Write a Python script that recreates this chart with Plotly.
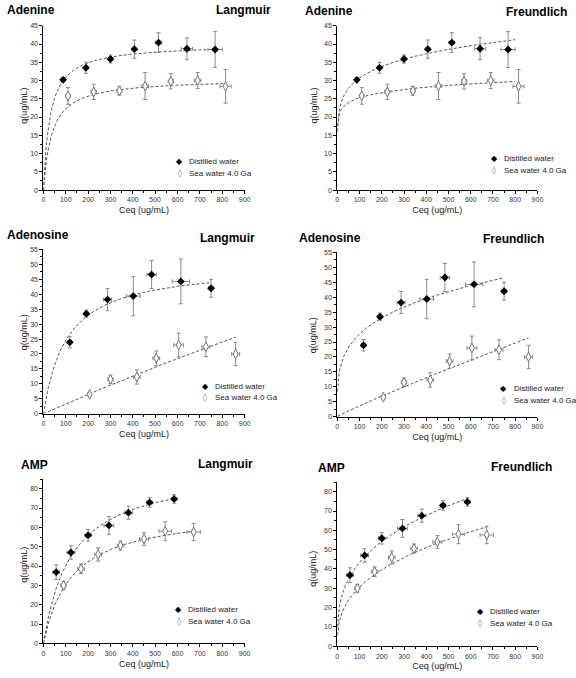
import numpy as np
import plotly.graph_objects as go

W, H = 576, 678
FONT = "Liberation Sans, Arial, sans-serif"

# ---------------- data ----------------
# Adenine
ade_dw_x = [88, 190, 300, 407, 515, 642, 768]
ade_dw_y = [30.2, 33.5, 35.9, 38.6, 40.4, 38.7, 38.5]
ade_dw_ey = [0.6, 1.5, 1.1, 2.5, 2.7, 3.0, 4.9]
ade_dw_ex = [5, 8, 8, 10, 12, 25, 32]
ade_sw_x = [110, 225, 340, 455, 570, 690, 815]
ade_sw_y = [25.8, 26.9, 27.2, 28.5, 29.8, 30.0, 28.4]
ade_sw_ey = [2.3, 2.1, 1.2, 3.7, 2.1, 2.2, 4.6]
ade_sw_ex = [10, 12, 10, 15, 12, 15, 25]

# Adenosine
ado_dw_x = [118, 192, 287, 402, 484, 615, 750]
ado_dw_y = [23.9, 33.5, 38.2, 39.4, 46.6, 44.3, 42.0]
ado_dw_ey = [1.9, 1.2, 3.7, 6.6, 4.7, 7.5, 3.0]
ado_dw_ex = [8, 10, 18, 31, 21, 39, 12]
ado_sw_x = [207, 300, 418, 505, 605, 727, 860]
ado_sw_y = [6.5, 11.5, 12.3, 18.6, 23.0, 22.4, 20.0]
ado_sw_ey = [0.5, 1.4, 2.4, 2.4, 4.0, 3.3, 3.9]
ado_sw_ex = [8, 12, 15, 15, 22, 18, 18]

# AMP
amp_dw_x = [57, 123, 200, 293, 380, 475, 585]
amp_dw_y = [36.8, 47.0, 55.9, 61.0, 67.6, 72.9, 74.7]
amp_dw_ey = [3.8, 3.5, 3.0, 4.6, 3.4, 2.5, 2.2]
amp_dw_ex = [15, 18, 15, 22, 18, 12, 12]
amp_sw_x = [90, 168, 245, 345, 450, 545, 672]
amp_sw_y = [30.0, 38.6, 46.0, 50.6, 54.0, 58.0, 57.6]
amp_sw_ey = [2.0, 2.5, 3.4, 2.3, 3.3, 4.9, 4.5]
amp_sw_ex = [12, 15, 15, 15, 20, 28, 30]

# Fitted model parameters (qm, K) for Langmuir, (Kf, 1/n) for Freundlich
lang_ade_dw = (40.0, 0.034);    lang_ade_sw = (30.5, 0.027)
lang_ado_dw = (50.0, 0.00967);  lang_ado_sw = (250.0, 0.000133)
lang_amp_dw = (91.0, 0.00796);  lang_amp_sw = (68.9, 0.00793)
freu_ade_dw = (16.05, 0.141);   freu_ade_sw = (17.6, 0.0786)
freu_ado_dw = (8.48, 0.257);    freu_ado_sw = (0.0527, 0.92)
freu_amp_dw = (9.96, 0.32);     freu_amp_sw = (5.67, 0.367)

# fit-curve Ceq spans
span_ade_lang = ((0, 790), (0, 820))
span_ade_freu = ((1, 800), (1, 800))
span_ado_lang = ((0, 750), (0, 860))
span_ado_freu = ((1, 750), (1, 860))
span_amp_lang = ((0, 590), (0, 675))
span_amp_freu = ((1, 590), (1, 677))

compounds = ["Adenine", "Adenosine", "AMP"]
models = ["Langmuir", "Freundlich"]
legend_labels = ["Distilled water", "Sea water 4.0 Ga"]
x_title = "Ceq (ug/mL)"
y_title = "q(ug/mL)"


def langmuir(c, p):
    qm, k = p
    return qm * k * c / (1 + k * c)


def freundlich(c, p):
    kf, inv_n = p
    return kf * np.power(c, inv_n)


data = {
    "Adenine": ((ade_dw_x, ade_dw_y, ade_dw_ex, ade_dw_ey),
                (ade_sw_x, ade_sw_y, ade_sw_ex, ade_sw_ey)),
    "Adenosine": ((ado_dw_x, ado_dw_y, ado_dw_ex, ado_dw_ey),
                  (ado_sw_x, ado_sw_y, ado_sw_ex, ado_sw_ey)),
    "AMP": ((amp_dw_x, amp_dw_y, amp_dw_ex, amp_dw_ey),
            (amp_sw_x, amp_sw_y, amp_sw_ex, amp_sw_ey)),
}
fits = {
    ("Adenine", "Langmuir"): (lang_ade_dw, lang_ade_sw, span_ade_lang),
    ("Adenine", "Freundlich"): (freu_ade_dw, freu_ade_sw, span_ade_freu),
    ("Adenosine", "Langmuir"): (lang_ado_dw, lang_ado_sw, span_ado_lang),
    ("Adenosine", "Freundlich"): (freu_ado_dw, freu_ado_sw, span_ado_freu),
    ("AMP", "Langmuir"): (lang_amp_dw, lang_amp_sw, span_amp_lang),
    ("AMP", "Freundlich"): (freu_amp_dw, freu_amp_sw, span_amp_freu),
}
yranges = {"Adenine": (45, 5), "Adenosine": (55, 5), "AMP": (85, 10)}

# ---------------- layout geometry (pixels) ----------------
# per panel: axis left, axis right, y of axis bottom, y of axis top
geom = {
    (0, 0): (42, 246, 188, 22),
    (0, 1): (340, 543, 188, 22),
    (1, 0): (42, 246, 414, 248),
    (1, 1): (340, 543, 417, 251),
    (2, 0): (42, 246, 646, 480),
    (2, 1): (340, 543, 649, 483),
}
# title positions: (left x, y), (right x, y)
title_pos = {
    (0, 0): ((3, 6), (275, 6)),
    (0, 1): ((305, 7), (575, 8)),
    (1, 0): ((3, 233), (259, 236)),
    (1, 1): ((299, 236), (552, 237)),
    (2, 0): ((17, 466), (257, 465)),
    (2, 1): ((318, 469), (560, 468)),
}
# y-axis title centre (x, y)
ytitle_pos = {
    (0, 0): (22, 103),
    (0, 1): (316, 103),
    (1, 0): (22, 332),
    (1, 1): (315, 335),
    (2, 0): (22, 567),
    (2, 1): (315, 571),
}
# legend: marker x, y of first row
leg_pos = {
    (0, 0): (180, 159),
    (0, 1): (499, 156),
    (1, 0): (206, 386),
    (1, 1): (509, 389),
    (2, 0): (179, 612),
    (2, 1): (485, 614),
}

fig = go.Figure()
layout = dict(
    width=W, height=H, margin=dict(l=0, r=0, t=0, b=0),
    paper_bgcolor="white", plot_bgcolor="white",
    font=dict(family=FONT, color="#222"), showlegend=False,
)
annotations = []

ERR_COLOR = "#8a8a8a"
for r, comp in enumerate(compounds):
    for c, model in enumerate(models):
        idx = r * 2 + c + 1
        xa = "x" if idx == 1 else f"x{idx}"
        ya = "y" if idx == 1 else f"y{idx}"
        xl, xr, yb, yt = geom[(r, c)]
        ymax, ydt = yranges[comp]
        axis_base = dict(
            showline=True, linecolor="black", linewidth=1, showgrid=False,
            zeroline=False, ticks="outside", ticklen=3, tickwidth=1,
            tickcolor="black", tickfont=dict(size=7, color="#333", family=FONT),
        )
        layout["xaxis" if idx == 1 else f"xaxis{idx}"] = dict(
            axis_base, domain=[xl / W, xr / W], anchor=ya, range=[0, 900],
            tick0=0, dtick=100,
            minor=dict(ticks="outside", ticklen=2, dtick=50, tickcolor="black"),
            title=dict(text=x_title, font=dict(size=9, family=FONT, color="#222"), standoff=4),
        )
        layout["yaxis" if idx == 1 else f"yaxis{idx}"] = dict(
            axis_base, domain=[1 - yb / H, 1 - yt / H], anchor=xa, range=[0, ymax],
            tick0=0, dtick=ydt,
            minor=dict(ticks="outside", ticklen=2, dtick=ydt / 2, tickcolor="black"),
        )
        pdw, psw, spans = fits[(comp, model)]
        fn = langmuir if model == "Langmuir" else freundlich
        for p, (s0, s1) in zip((pdw, psw), spans):
            cc = np.linspace(s0, s1, 200)
            fig.add_trace(go.Scatter(
                x=cc, y=fn(cc, p), mode="lines", xaxis=xa, yaxis=ya,
                line=dict(color="#555", width=1, dash="3px,2px"), hoverinfo="skip",
            ))
        (dx, dy, dex, dey), (sx, sy, sex, sey) = data[comp]
        fig.add_trace(go.Scatter(
            x=sx, y=sy, mode="markers", xaxis=xa, yaxis=ya, name=legend_labels[1],
            marker=dict(symbol="diamond-tall", size=7, color="white",
                        line=dict(color="#777", width=1)),
            error_y=dict(type="data", array=sey, color=ERR_COLOR, thickness=1, width=2),
            error_x=dict(type="data", array=sex, color=ERR_COLOR, thickness=1, width=2),
        ))
        fig.add_trace(go.Scatter(
            x=dx, y=dy, mode="markers", xaxis=xa, yaxis=ya, name=legend_labels[0],
            marker=dict(symbol="diamond", size=6, color="black"),
            error_y=dict(type="data", array=dey, color=ERR_COLOR, thickness=1, width=2),
            error_x=dict(type="data", array=dex, color=ERR_COLOR, thickness=1, width=2),
        ))
        # panel titles
        (lx, ly), (rx, ry) = title_pos[(r, c)]
        annotations.append(dict(text=f"<b>{comp}</b>", x=lx / W, y=1 - ly / H,
                                xref="paper", yref="paper", xanchor="left", yanchor="middle",
                                showarrow=False, font=dict(size=12, family=FONT, color="black")))
        annotations.append(dict(text=f"<b>{model}</b>", x=rx / W, y=1 - ry / H,
                                xref="paper", yref="paper", xanchor="right", yanchor="middle",
                                showarrow=False, font=dict(size=12, family=FONT, color="black")))
        # y-axis title
        tx, ty = ytitle_pos[(r, c)]
        annotations.append(dict(text=y_title, x=tx / W, y=1 - ty / H, xref="paper",
                                yref="paper", xanchor="center", yanchor="middle",
                                textangle=-90, showarrow=False,
                                font=dict(size=9, family=FONT, color="#222")))
        # legend entries
        mx, my = leg_pos[(r, c)]
        for k, (glyph, gcol) in enumerate((("◆", "black"), ("◊", "#666"))):
            yy = 1 - (my + 12 * k) / H
            annotations.append(dict(text=glyph, x=mx / W, y=yy, xref="paper", yref="paper",
                                    xanchor="center", yanchor="middle", showarrow=False,
                                    font=dict(size=8, family="DejaVu Sans", color=gcol)))
            annotations.append(dict(text=legend_labels[k], x=(mx + 8) / W, y=yy,
                                    xref="paper", yref="paper", xanchor="left",
                                    yanchor="middle", showarrow=False,
                                    font=dict(size=8, family=FONT, color="#222")))

layout["annotations"] = annotations
fig.update_layout(**layout)
fig.write_html(
    "out.html",
    config={"displayModeBar": False},
    post_script="document.body.style.margin='0';document.body.style.overflow='hidden';",
)
